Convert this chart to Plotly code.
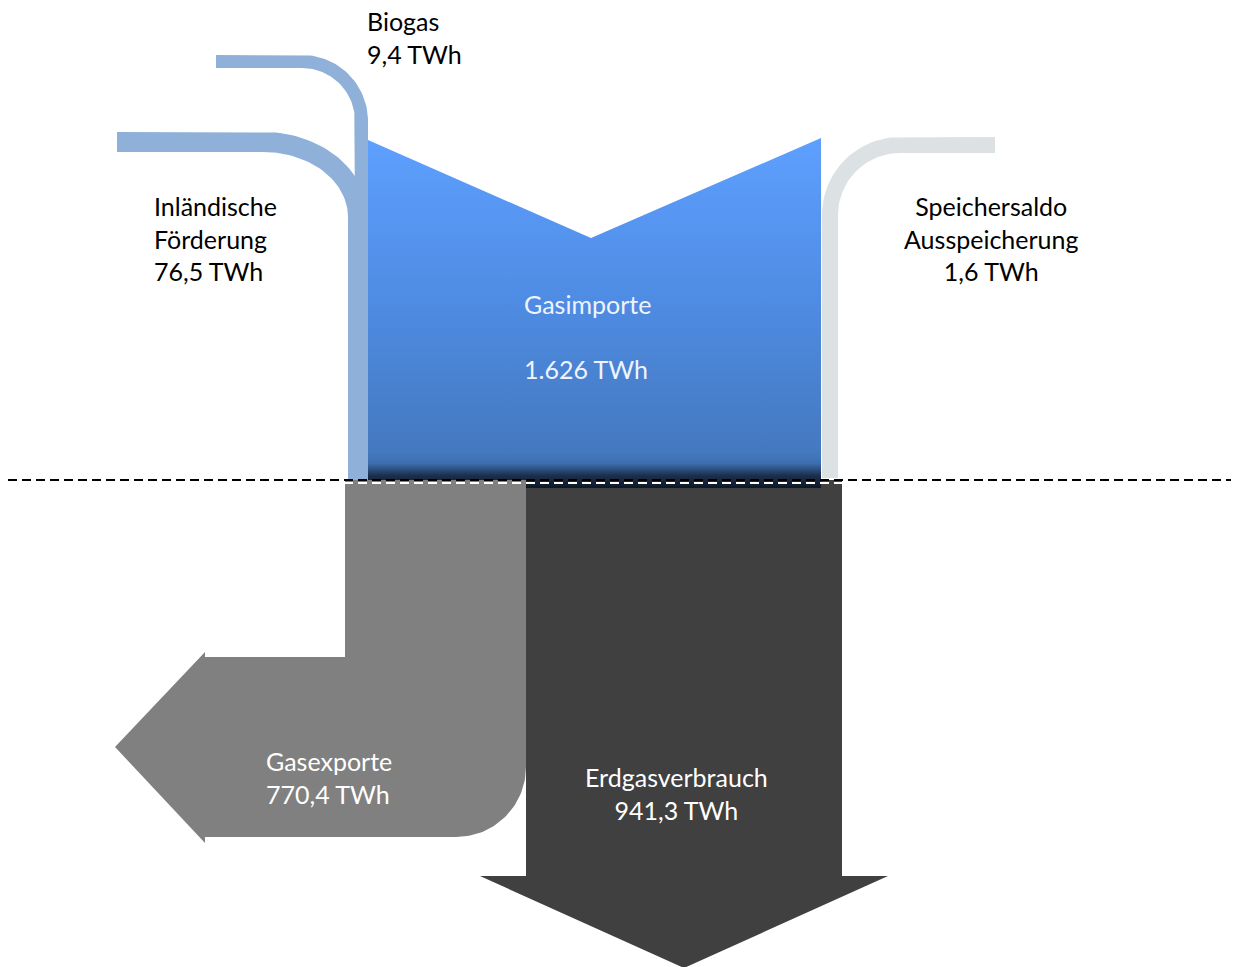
import numpy as np
import plotly.graph_objects as go

# flows (TWh), German number format in labels
flow_names = ["Inländische<br>Förderung", "Biogas", "Speichersaldo<br>Ausspeicherung",
              "Gasimporte<br>", "Gasexporte", "Erdgasverbrauch"]
flow_values = [76.5, 9.4, 1.6, 1626, 770.4, 941.3]
flow_colors = ["#8EB0D9", "#8EB0D9", "#DCE1E4", None, "#808080", "#404040"]
label_colors = ["#000000", "#000000", "#000000", "#EEF4FF", "#FFFFFF", "#FFFFFF"]

FONT = "Lato"
W, H = 1239, 967
OFF = 8  # page body margin


def fmt(v):
    if v >= 1000:
        return f"{v:,.0f}".replace(",", ".")
    return f"{v:.1f}".replace(".", ",")


def arc(cx, cy, rx, ry, a0, a1, n=40):
    t = np.radians(np.linspace(a0, a1, n))
    return list(cx + rx * np.cos(t)), list(cy + ry * np.sin(t))


def poly(pieces):
    xs, ys = [], []
    for px, py in pieces:
        xs += list(px)
        ys += list(py)
    return xs + [xs[0]], ys + [ys[0]]


fig = go.Figure()


def add_shape(xs, ys, color, **kw):
    fig.add_trace(go.Scatter(x=xs, y=ys, mode="lines", fill="toself", fillcolor=color,
                             line=dict(width=0, color=color), hoverinfo="skip",
                             showlegend=False, **kw))


# Erdgasverbrauch (down arrow)
xs, ys = poly([([526, 842, 842, 888, 684, 480, 526], [480, 480, 876, 876, 968, 876, 876])])
add_shape(xs, ys, flow_colors[5])

# Gasimporte block with vertical gradient
xs, ys = poly([([368, 591, 821, 821, 368], [140, 238, 138, 488, 488])])
fig.add_trace(go.Scatter(
    x=xs, y=ys, mode="lines", fill="toself", line=dict(width=0), hoverinfo="skip",
    showlegend=False,
    fillgradient=dict(type="vertical", start=138, stop=488,
                      colorscale=[[0, "#5EA0FF"], [0.45, "#4F8CE4"], [0.9, "#4479BF"],
                                  [0.93, "#3D6DAE"], [0.965, "#1C2E4C"], [1, "#0E1726"]])))

# Gasexporte (left arrow)
ax, ay = arc(456, 767, 70, 70, 0, 90)
xs, ys = poly([([345, 526, 526], [480, 480, 767]), (ax, ay),
               ([205, 205, 115, 205, 205, 345], [837, 843, 747, 652, 657, 657])])
add_shape(xs, ys, flow_colors[4])

# Biogas
ox, oy = arc(302, 121, 66, 66, -90, 0)
ix, iy = arc(302, 121, 53, 53, 0, -90)
xs, ys = poly([([216], [55]), (ox, oy), ([368, 355], [215, 215]), (ix, iy), ([216], [68])])
add_shape(xs, ys, flow_colors[1])

# Inländische Förderung
ox, oy = arc(263, 217, 105, 85, -90, 0)
ix, iy = arc(263, 217, 85, 65, 0, -90)
xs, ys = poly([([117], [132]), (ox, oy), ([368, 348], [480, 480]), (ix, iy), ([117], [152])])
add_shape(xs, ys, flow_colors[0])

# Speichersaldo
ox, oy = arc(900, 215, 78, 78, -90, -180)
ix, iy = arc(900, 215, 62, 62, 180, 270)
xs, ys = poly([([995], [137]), (ox, oy), ([822, 838], [478, 478]), (ix, iy), ([995], [153])])
add_shape(xs, ys, flow_colors[2])

# boundary line
fig.add_shape(type="line", x0=8, x1=W, y0=483, y1=483, xref="x", yref="y",
              line=dict(color="white", width=2, dash="9px,5px"))
fig.add_shape(type="line", x0=8, x1=W, y0=480, y1=480, xref="x", yref="y",
              line=dict(color="black", width=2, dash="9px,5px"))

# labels: (x, y, xanchor, align)
label_pos = [(152, 238, "left", "left"), (365, 37, "left", "left"),
             (991, 238, "center", "center"), (522, 336, "left", "left"),
             (264, 777, "left", "left"), (676, 793, "center", "center")]
for i, (x, y, xa, al) in enumerate(label_pos):
    fig.add_annotation(x=x, y=y, xref="x", yref="y", xanchor=xa, yanchor="middle",
                       align=al, showarrow=False,
                       text=f"{flow_names[i]}<br>{fmt(flow_values[i])} TWh",
                       font=dict(family=FONT, size=25, color=label_colors[i]))

fig.update_layout(
    width=W - OFF, height=H - OFF, margin=dict(l=0, r=0, t=0, b=0),
    paper_bgcolor="white", plot_bgcolor="white",
    xaxis=dict(range=[OFF, W], visible=False, fixedrange=True),
    yaxis=dict(range=[H, OFF], visible=False, fixedrange=True),
)

fig.write_html("out.html")
